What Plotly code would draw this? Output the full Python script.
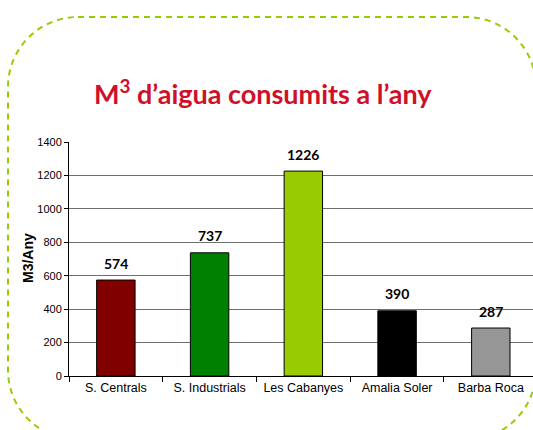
import plotly.graph_objects as go

categories = ["S. Centrals", "S. Industrials", "Les Cabanyes", "Amalia Soler", "Barba Roca"]
values = [574, 737, 1226, 390, 287]
bar_colors = ["#800000", "#008000", "#99CC00", "#000000", "#969696"]
y_ticks = [0, 200, 400, 600, 800, 1000, 1200, 1400]

W, H = 533, 430
L, R, T, B = 69, 0, 142, 54
pw, ph = W - L - R, H - T - B

def px(x):
    return (x - L) / pw

def py(y):
    return (H - B - y) / ph

fig = go.Figure()
fig.add_trace(go.Bar(
    x=categories, y=values, width=0.41,
    marker=dict(color=bar_colors, line=dict(color="#000000", width=1)),
    hoverinfo="skip",
))

for c, v in zip(categories, values):
    fig.add_annotation(x=c, y=v, text=f"<b>{v}</b>", showarrow=False,
                       yshift=17, font=dict(family="Lato", size=14, color="#000"))

# rounded dashed border (pixel geometry -> paper coords)
x0, x1, y0, y1, r = 8, 536, 17, 440, 70
k = 0.5523 * r

def P(x, y):
    return f"{px(x):.5f},{py(y):.5f}"

path = (
    f"M {P(x0 + r, y0)} L {P(x1 - r, y0)} "
    f"C {P(x1 - r + k, y0)} {P(x1, y0 + r - k)} {P(x1, y0 + r)} "
    f"L {P(x1, y1 - r)} "
    f"C {P(x1, y1 - r + k)} {P(x1 - r + k, y1)} {P(x1 - r, y1)} "
    f"L {P(x0 + r, y1)} "
    f"C {P(x0 + r - k, y1)} {P(x0, y1 - r + k)} {P(x0, y1 - r)} "
    f"L {P(x0, y0 + r)} "
    f"C {P(x0, y0 + r - k)} {P(x0 + r - k, y0)} {P(x0 + r, y0)} Z"
)
fig.add_shape(type="path", path=path, xref="paper", yref="paper",
              line=dict(color="#99CC00", width=2, dash="6px,5px"), layer="below")

fig.add_annotation(x=px(263), y=py(72), xref="paper", yref="paper",
                   text="<b>M<sup>3</sup> d’aigua consumits a l’any</b>",
                   showarrow=False, font=dict(family="Lato", size=27, color="#D0102A"))

fig.add_annotation(x=px(18), y=py(258), xref="paper", yref="paper", textangle=-90,
                   text="<b>M3/Any</b>", showarrow=False,
                   font=dict(family="Liberation Sans", size=14, color="#000"))

fig.update_layout(
    width=W, height=H,
    margin=dict(l=L, r=R, t=T, b=B, pad=0),
    paper_bgcolor="white", plot_bgcolor="white",
    showlegend=False,
    xaxis=dict(
        type="category", range=[-0.5, 4.45],
        tickson="boundaries", ticks="outside", ticklen=5, tickcolor="#000",
        showline=True, linecolor="#000", linewidth=1,
        showgrid=False,
        tickfont=dict(family="Liberation Sans", size=12.5, color="#000"),
    ),
    yaxis=dict(
        range=[0, 1400], tickvals=y_ticks,
        ticks="outside", ticklen=4, tickcolor="#000",
        showline=True, linecolor="#000", linewidth=1,
        showgrid=True, gridcolor="#6f6f6f", gridwidth=1,
        zeroline=False,
        tickfont=dict(family="Liberation Sans", size=11, color="#000"),
    ),
)

fig.write_html("out.html", config={"displayModeBar": False},
               post_script="document.body.style.margin='0';document.body.style.padding='0';")
